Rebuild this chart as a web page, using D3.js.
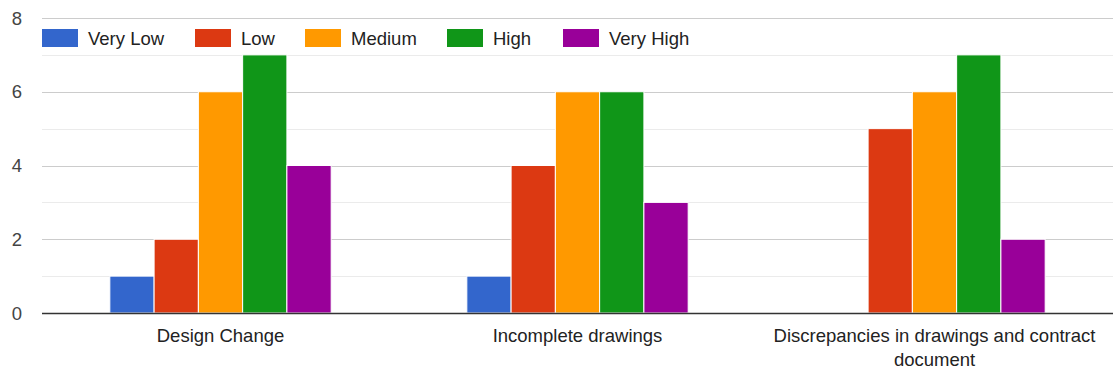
<!DOCTYPE html>
<html>
<head>
<meta charset="utf-8">
<script src="https://cdn.jsdelivr.net/npm/d3@7"></script>
<style>
  html, body { margin: 0; padding: 0; background: #fff; }
  svg { display: block; font-family: "Liberation Sans", Arial, sans-serif; }
</style>
</head>
<body>
<svg id="chart" width="1113" height="371"></svg>
<script>
// Survey responses per cause, by rated severity
const categories = [
  ["Design Change"],
  ["Incomplete drawings"],
  ["Discrepancies in drawings and contract", "document"]
];
const seriesNames = ["Very Low", "Low", "Medium", "High", "Very High"];
const colors = ["#3366cc", "#dc3912", "#ff9900", "#109618", "#990099"];
const veryLow  = [1, 1, 0];
const low      = [2, 4, 5];
const medium   = [6, 6, 6];
const high     = [7, 6, 7];
const veryHigh = [4, 3, 2];
const yTicks = [0, 2, 4, 6, 8];
const yMinor = [1, 3, 5, 7];

const series = [veryLow, low, medium, high, veryHigh];

const svg = d3.select("#chart");
const margin = { left: 42, right: 0, top: 18, bottom: 58 };
const W = 1113, H = 371;
const x0 = margin.left, x1 = W - margin.right;
const yTop = margin.top, yBot = H - margin.bottom;

const x = d3.scaleBand().domain(d3.range(categories.length)).range([x0, x1]).paddingInner(0).paddingOuter(0);
const groupW = x.bandwidth() * 0.62;
const xs = d3.scaleBand().domain(d3.range(seriesNames.length)).range([0, groupW]).padding(0);
const y = d3.scaleLinear().domain([0, 8]).range([yBot, yTop]);

// minor gridlines
svg.append("g").selectAll("line").data(yMinor).join("line")
  .attr("x1", x0).attr("x2", x1)
  .attr("y1", d => Math.round(y(d)) + 0.5).attr("y2", d => Math.round(y(d)) + 0.5)
  .attr("stroke", "#ebebeb").attr("stroke-width", 1);

// major gridlines
svg.append("g").selectAll("line").data(yTicks.filter(d => d > 0)).join("line")
  .attr("x1", x0).attr("x2", x1)
  .attr("y1", d => Math.round(y(d)) + 0.5).attr("y2", d => Math.round(y(d)) + 0.5)
  .attr("stroke", "#cccccc").attr("stroke-width", 1);

// y tick labels
svg.append("g").selectAll("text").data(yTicks).join("text")
  .attr("x", 22).attr("y", d => y(d))
  .attr("dy", "0.36em").attr("text-anchor", "end")
  .attr("font-size", 18.5).attr("fill", "#444")
  .text(d => d);

// bars
const groups = svg.append("g").selectAll("g").data(categories).join("g")
  .attr("transform", (d, i) => `translate(${x(i) + (x.bandwidth() - groupW) / 2},0)`);

groups.each(function (c, ci) {
  d3.select(this).selectAll("rect")
    .data(series.map((s, si) => ({ v: s[ci], si })).filter(d => d.v > 0))
    .join("rect")
    .attr("x", d => xs(d.si))
    .attr("width", xs.bandwidth())
    .attr("y", d => y(d.v))
    .attr("height", d => y(0) - y(d.v))
    .attr("fill", d => colors[d.si])
    .attr("stroke", "#fff").attr("stroke-width", 1);
});

// baseline
svg.append("line")
  .attr("x1", x0).attr("x2", x1)
  .attr("y1", Math.round(y(0)) + 0.5).attr("y2", Math.round(y(0)) + 0.5)
  .attr("stroke", "#333").attr("stroke-width", 1.3);

// category labels
svg.append("g").selectAll("text").data(categories).join("text")
  .attr("x", (d, i) => x(i) + x.bandwidth() / 2)
  .attr("y", 342)
  .attr("text-anchor", "middle")
  .attr("font-size", 18.5).attr("fill", "#222")
  .each(function (lines) {
    d3.select(this).selectAll("tspan").data(lines).join("tspan")
      .attr("x", d3.select(this).attr("x"))
      .attr("dy", (d, k) => k === 0 ? 0 : 24)
      .text(d => d);
  });

// legend
const legendX = [42, 195, 305, 447, 563];
const legend = svg.append("g").selectAll("g").data(seriesNames).join("g")
  .attr("transform", (d, i) => `translate(${legendX[i]},29)`);
legend.append("rect")
  .attr("width", 36).attr("height", 18)
  .attr("fill", (d, i) => colors[i]);
legend.append("text")
  .attr("x", 46).attr("y", 9).attr("dy", "0.36em")
  .attr("font-size", 18.5).attr("fill", "#222")
  .text(d => d);
</script>
</body>
</html>
